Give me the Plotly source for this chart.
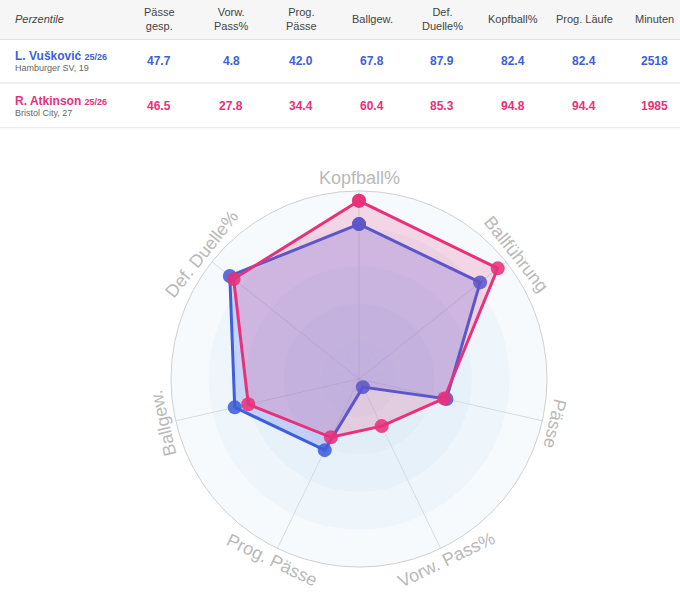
import math
import plotly.graph_objects as go

# table data
columns = ["Pässe<br>gesp.", "Vorw.<br>Pass%", "Prog.<br>Pässe", "Ballgew.",
           "Def.<br>Duelle%", "Kopfball%", "Prog. Läufe", "Minuten"]
players = ["L. Vušković", "R. Atkinson"]
seasons = ["25/26", "25/26"]
clubs = ["Hamburger SV, 19", "Bristol City, 27"]
vuskovic = [47.7, 4.8, 42.0, 67.8, 87.9, 82.4, 82.4, 2518]
atkinson = [46.5, 27.8, 34.4, 60.4, 85.3, 94.8, 94.4, 1985]

# radar data
categories = ["Kopfball%", "Ballführung", "Pässe", "Vorw. Pass%",
              "Prog. Pässe", "Ballgew.", "Def. Duelle%"]
radar_vuskovic = [82.4, 82.4, 47.7, 4.8, 42.0, 67.8, 87.9]
radar_atkinson = [94.8, 94.4, 46.5, 27.8, 34.4, 60.4, 85.3]
rings = [100, 80, 60, 40, 20]

BLUE = "#3d5fdc"
PINK = "#e8317a"
FONT = "Arial, Liberation Sans, sans-serif"
W, H = 680, 600
CX, CY, R = 359, 379, 188


def px(x):
    return x / W


def py(y):
    return 1 - y / H


def label(x, y, text, size, color, xanchor="center", angle=0):
    fig.add_annotation(x=px(x), y=py(y), xref="paper", yref="paper", text=text,
                       showarrow=False, xanchor=xanchor, yanchor="middle",
                       textangle=angle, font=dict(size=size, color=color))


fig = go.Figure()

# background rings (same radial scale as the radar)
for ring in rings:
    fig.add_trace(go.Barpolar(
        r=[ring] * len(categories), theta=categories, width=[1] * len(categories),
        base=0, marker=dict(color="rgba(190,222,240,0.14)", line=dict(width=0)),
        hoverinfo="skip", showlegend=False,
    ))

for name, vals, col, fillc in [
    (players[0], radar_vuskovic, BLUE, "rgba(80,105,240,0.24)"),
    (players[1], radar_atkinson, PINK, "rgba(232,49,122,0.18)"),
]:
    fig.add_trace(go.Scatterpolar(
        r=vals + vals[:1], theta=categories + categories[:1],
        mode="lines+markers", name=name, fill="toself", fillcolor=fillc,
        line=dict(color=col, width=3),
        marker=dict(color=col, size=14, opacity=0.88),
        showlegend=False,
    ))

fig.update_layout(
    width=W, height=H,
    margin=dict(l=0, r=0, t=0, b=0),
    paper_bgcolor="white",
    barmode="overlay",
    polar=dict(
        domain=dict(x=[px(CX - R), px(CX + R)], y=[py(CY + R), py(CY - R)]),
        bgcolor="rgba(0,0,0,0)",
        angularaxis=dict(rotation=90, direction="clockwise", categoryorder="array",
                         categoryarray=categories, showticklabels=False, ticks="",
                         gridcolor="#dcdcdc", linecolor="#d0d0d0", linewidth=1),
        radialaxis=dict(range=[0, 100], showgrid=False, showticklabels=False,
                        ticks="", showline=False),
    ),
    font=dict(family=FONT),
)

# table frame
fig.add_shape(type="rect", xref="paper", yref="paper", x0=0, x1=1, y0=py(39), y1=1,
              fillcolor="#f6f6f6", line=dict(width=0), layer="below")
for yy, c in [(39.5, "#e2e2e2"), (83, "#e2e2e2"), (127.5, "#ececec"), (129, "#f5f5f5")]:
    fig.add_shape(type="line", xref="paper", yref="paper", x0=0, x1=1,
                  y0=py(yy), y1=py(yy), line=dict(color=c, width=1))

col_x = [159, 231, 301, 372, 442, 513, 584, 654]
label(13, 19, "<i>Perzentile</i>", 11, "#444", xanchor="left")
for cx, lab in zip(col_x, columns):
    label(cx, 19, lab, 11, "#444")

row_y = [61, 106]
for ry, name, season, club, vals, col in zip(row_y, players, seasons, clubs,
                                             [vuskovic, atkinson], [BLUE, PINK]):
    label(13, ry - 5, f"<b>{name}</b> <b><span style='font-size:9px'>{season}</span></b>",
          12, col, xanchor="left")
    label(13, ry + 7, club, 9, "#666", xanchor="left")
    for cx, v in zip(col_x, vals):
        txt = f"{v:.1f}" if isinstance(v, float) else str(v)
        label(cx, ry, f"<b>{txt}</b>", 12, col)

# rotated angular labels
LR = 201
n = len(categories)
for i, cat in enumerate(categories):
    th = math.radians(90 - i * 360 / n)
    rot = i * 360 / n
    if rot > 180:
        rot -= 360
    if abs(rot) > 120:
        rot -= math.copysign(180, rot)
    label(CX + LR * math.cos(th), CY - LR * math.sin(th), cat, 18, "#b9b9b9", angle=rot)

fig.write_html("out.html", config={"displayModeBar": False},
               post_script="document.body.style.margin='0';")
